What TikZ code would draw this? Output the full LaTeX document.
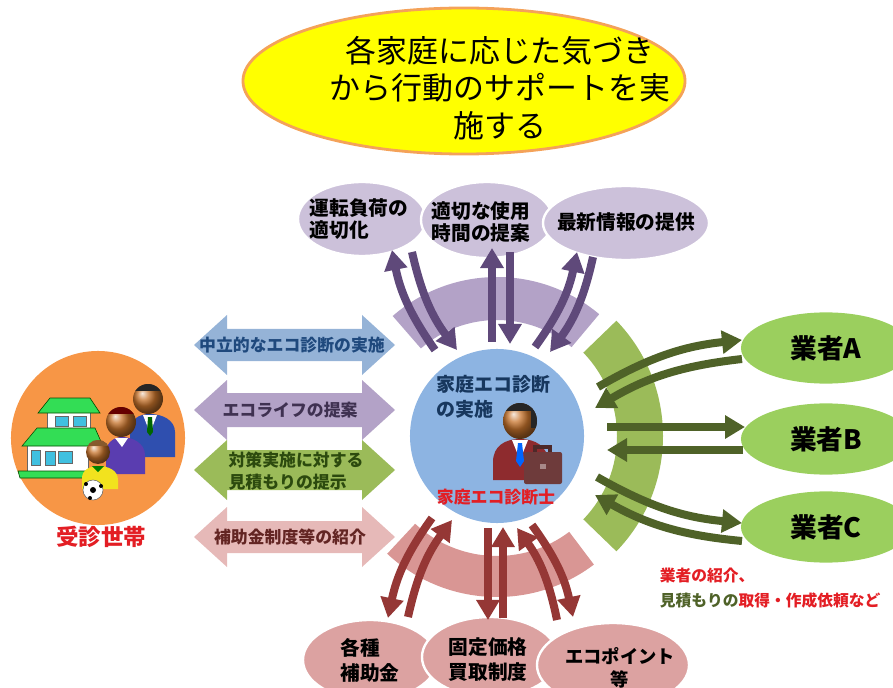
\documentclass[tikz,border=0pt]{standalone}
\usepackage{fontspec}
\setmainfont{Noto Sans CJK JP}
\usetikzlibrary{shapes.geometric, arrows.meta}

\definecolor{goalfill}{HTML}{FFFF00}
\definecolor{goalline}{HTML}{F4A259}
\definecolor{lavender}{HTML}{CCC1DA}
\definecolor{bandpurple}{HTML}{B3A2C7}
\definecolor{arrowpurple}{HTML}{5F497A}
\definecolor{bandgreen}{HTML}{9BBB59}
\definecolor{arrowgreen}{HTML}{4F6228}
\definecolor{firmgreen}{HTML}{9BCF5E}
\definecolor{bandpink}{HTML}{D99694}
\definecolor{bubblepink}{HTML}{DCA2A1}
\definecolor{arrowred}{HTML}{953735}
\definecolor{diagblue}{HTML}{8DB4E2}
\definecolor{homeorange}{HTML}{F79646}
\definecolor{alertred}{HTML}{E31E24}
\definecolor{navytext}{HTML}{17375E}
\definecolor{askblue}{HTML}{95B3D7}
\definecolor{askpurple}{HTML}{B3A2C7}
\definecolor{askgreen}{HTML}{9BBB59}
\definecolor{askpink}{HTML}{E6B9B8}
\definecolor{askbluetext}{HTML}{1F497D}
\definecolor{askpurpletext}{HTML}{3F3151}
\definecolor{askgreentext}{HTML}{2C4A0E}
\definecolor{askpinktext}{HTML}{632523}
\definecolor{skintone}{HTML}{C8742C}
\definecolor{suitred}{HTML}{8E2B2E}
\definecolor{casebrown}{HTML}{6E3B3B}
\definecolor{suitblue}{HTML}{2F4FAF}
\definecolor{dresspurple}{HTML}{5A3DB0}
\definecolor{shirtyellow}{HTML}{F2E21E}
\definecolor{roofgreen}{HTML}{33DD55}
\definecolor{glasscyan}{HTML}{40C0E0}

\begin{document}
\begin{tikzpicture}[x=0.025cm, y=-0.025cm,
    bubble/.style={ellipse, draw=white, line width=0.06cm},
    bubbletext/.style={align=left, font=\bfseries\fontsize{14}{16}\selectfont},
    asktext/.style={align=left, font=\bfseries\fontsize{12}{15.6}\selectfont},
    firm/.style={ellipse, fill=firmgreen, minimum width=4.25cm, minimum height=1.78cm,
        font=\bfseries\fontsize{19}{22}\selectfont},
    flow/.style={line width=0.2cm, -{Triangle[width=0.56cm, length=0.5cm]}}]

    \useasboundingbox (0,0) rectangle (893,688);
    \clip (0,0) rectangle (893,688);

    % goal balloon
    \node [ellipse, fill=goalfill, draw=goalline, line width=0.07cm,
        minimum width=11.05cm, minimum height=3.65cm] (goal) at (464,81) {};
    \node [align=center, font=\fontsize{22}{26.5}\selectfont] (goaltext) at (500,88)
        {各家庭に応じた気づき\\から行動のサポートを実\\施する};

    % bands round the diagnosis
    \coordinate (hub) at (497,436);
    \fill [bandpurple] ([shift={(-131:159)}]hub) arc [start angle=-131, end angle=-50, radius=159]
        -- ([shift={(-50:116)}]hub) arc [start angle=-50, end angle=-131, radius=116] -- cycle;
    \fill [bandgreen] ([shift={(-44:166)}]hub) arc [start angle=-44, end angle=44, radius=166]
        -- ([shift={(44:120)}]hub) arc [start angle=44, end angle=-44, radius=120] -- cycle;
    \fill [bandpink] ([shift={(53:161)}]hub) arc [start angle=53, end angle=133, radius=161]
        -- ([shift={(133:120)}]hub) arc [start angle=133, end angle=53, radius=120] -- cycle;

    \node [circle, fill=diagblue, minimum size=4.35cm] (ctr) at (hub) {};
    \node [circle, fill=homeorange, minimum size=4.35cm] (home) at (98,438) {};

    % advice bubbles
    \node [bubble, fill=lavender, minimum width=3.2cm, minimum height=1.85cm] (adv1) at (362,219) {};
    \node [bubble, fill=lavender, minimum width=3.3cm, minimum height=1.9cm] (adv2) at (487,220) {};
    \node [bubble, fill=lavender, minimum width=4.15cm, minimum height=1.85cm] (adv3) at (626,223) {};
    \node [bubbletext] (adv1t) at (359,219) {運転負荷の\\適切化};
    \node [bubbletext] (adv2t) at (481,222) {適切な使用\\時間の提案};
    \node [bubbletext] (adv3t) at (626,222) {最新情報の提供};

    % support bubbles
    \node [bubble, fill=bubblepink, minimum width=3.35cm, minimum height=2cm] (aid1) at (370,660) {};
    \node [bubble, fill=bubblepink, minimum width=3.4cm, minimum height=2cm] (aid2) at (490,657) {};
    \node [bubble, fill=bubblepink, minimum width=3.8cm, minimum height=2.1cm] (aid3) at (613,665) {};
    \node [bubbletext, font=\bfseries\fontsize{14}{17.8}\selectfont] (aid1t) at (370,660) {各種\\補助金};
    \node [bubbletext, font=\bfseries\fontsize{14}{17.8}\selectfont] (aid2t) at (488,660) {固定価格\\買取制度};
    \node [align=center, font=\bfseries\fontsize{13}{16.5}\selectfont] (aid3t) at (620,668) {エコポイント\\等};

    % two-way arrows to the household
    \foreach \yc/\sh/\col in {345/16/askblue, 410/17/askpurple, 470/20/askgreen, 537/16/askpink}
        \fill [\col] (194,\yc) -- ++(33,-30) -- ++(0,30-\sh) -- ++(135,0) -- ++(0,\sh-30)
            -- ++(33,30) -- ++(-33,30) -- ++(0,\sh-30) -- ++(-135,0) -- ++(0,30-\sh) -- cycle;
    \node [asktext, text=askbluetext] (ask1) at (292,345) {中立的なエコ診断の実施};
    \node [asktext, text=askpurpletext] (ask2) at (290,410) {エコライフの提案};
    \node [asktext, text=askgreentext] (ask3) at (296,471) {対策実施に対する\\見積もりの提示};
    \node [asktext, text=askpinktext] (ask4) at (290,537) {補助金制度等の紹介};

    % firms
    \node [firm] (firmA) at (826,348) {業者A};
    \node [firm] (firmB) at (826,439) {業者B};
    \node [firm] (firmC) at (826,527) {業者C};

    % flows up
    \coordinate (p1a) at (435,350); \coordinate (p1b) at (392,250);
    \coordinate (p2a) at (412,252); \coordinate (p2b) at (457,350);
    \coordinate (p3a) at (492,342); \coordinate (p3b) at (492,248);
    \coordinate (p4a) at (510,252); \coordinate (p4b) at (510,344);
    \coordinate (p5a) at (535,347); \coordinate (p5b) at (577,252);
    \coordinate (p6a) at (593,257); \coordinate (p6b) at (550,352);
    \draw [flow, arrowpurple] (p1a) to [bend left=12] (p1b);
    \draw [flow, arrowpurple] (p2a) to [bend right=12] (p2b);
    \draw [flow, arrowpurple] (p3a) -- (p3b);
    \draw [flow, arrowpurple] (p4a) -- (p4b);
    \draw [flow, arrowpurple] (p5a) to [bend right=12] (p5b);
    \draw [flow, arrowpurple] (p6a) to [bend left=12] (p6b);

    % flows down
    \coordinate (r1a) at (432,518); \coordinate (r1b) at (388,618);
    \coordinate (r2a) at (408,617); \coordinate (r2b) at (452,520);
    \coordinate (r3a) at (488,528); \coordinate (r3b) at (488,620);
    \coordinate (r4a) at (503,618); \coordinate (r4b) at (503,527);
    \coordinate (r5a) at (557,620); \coordinate (r5b) at (517,528);
    \coordinate (r6a) at (532,525); \coordinate (r6b) at (573,617);
    \draw [flow, arrowred] (r1a) to [bend right=12] (r1b);
    \draw [flow, arrowred] (r2a) to [bend left=12] (r2b);
    \draw [flow, arrowred] (r3a) -- (r3b);
    \draw [flow, arrowred] (r4a) -- (r4b);
    \draw [flow, arrowred] (r5a) to [bend right=12] (r5b);
    \draw [flow, arrowred] (r6a) to [bend left=12] (r6b);

    % flows to the firms
    \coordinate (g1a) at (598,387); \coordinate (g1b) at (742,340);
    \coordinate (g2a) at (742,359); \coordinate (g2b) at (595,408);
    \coordinate (g3a) at (607,427); \coordinate (g3b) at (745,427);
    \coordinate (g4a) at (743,450); \coordinate (g4b) at (607,450);
    \coordinate (g5a) at (597,477); \coordinate (g5b) at (742,523);
    \coordinate (g6a) at (742,541); \coordinate (g6b) at (595,495);
    \draw [flow, arrowgreen] (g1a) to [bend left=12] (g1b);
    \draw [flow, arrowgreen] (g2a) to [bend right=12] (g2b);
    \draw [flow, arrowgreen] (g3a) -- (g3b);
    \draw [flow, arrowgreen] (g4a) -- (g4b);
    \draw [flow, arrowgreen] (g5a) to [bend right=12] (g5b);
    \draw [flow, arrowgreen] (g6a) to [bend left=12] (g6b);

    % diagnostician
    \fill [suitred] (493,480) -- (493,462) .. controls (493,446) and (505,439) .. (520,439)
        .. controls (535,439) and (548,446) .. (548,462) -- (548,480) -- cycle;
    \fill [white] (512,440) -- (528,440) -- (520,460) -- cycle;
    \fill [blue!60!cyan] (518,443) -- (522,443) -- (524,461) -- (520,467) -- (516,461) -- cycle;
    \shade [ball color=skintone] (520,421) ellipse [x radius=17, y radius=18];
    \begin{scope}
        \clip (520,421) ellipse [x radius=17, y radius=18];
        \fill [black!85] (500,400) rectangle (540,411);
        \fill [black!85] (531,400) rectangle (540,428);
    \end{scope}
    \draw [casebrown!70!black, line width=0.08cm] (535,453) -- (535,447) -- (550,447) -- (550,453);
    \fill [casebrown, rounded corners=0.05cm] (524,452) rectangle (562,484);
    \fill [casebrown!60!white] (540,464) rectangle (546,469);

    \node [align=left, anchor=west, text=navytext, font=\bfseries\fontsize{13.5}{17.8}\selectfont]
        (ctrlabel) at (432,397) {家庭エコ診断\\の実施};
    \node [text=alertred, font=\bfseries\fontsize{12}{14}\selectfont] (advisor) at (496,497) {家庭エコ診断士};

    % household: house and family
    \fill [white, draw=black!60] (47,410) rectangle (90,430);
    \fill [glasscyan, draw=black!60] (55,416) rectangle (68,426);
    \fill [glasscyan, draw=black!60] (73,416) rectangle (86,426);
    \fill [roofgreen, draw=green!30!black] (38,413) -- (50,398) -- (90,398) -- (100,413) -- cycle;
    \fill [white, draw=black!60] (27,444) rectangle (88,471);
    \fill [glasscyan, draw=black!60] (31,450) rectangle (40,465);
    \fill [glasscyan, draw=black!60] (45,451) rectangle (55,465);
    \fill [glasscyan, draw=black!60] (58,451) rectangle (72,463);
    \fill [roofgreen, draw=green!30!black] (22,446) -- (37,428) -- (95,428) -- (103,446) -- cycle;
    \fill [roofgreen, draw=green!30!black] (18,471) -- (88,471) -- (92,478) -- (20,478) -- cycle;

    \fill [suitblue] (130,457) -- (130,432) .. controls (130,419) and (139,414) .. (150,414)
        .. controls (162,414) and (175,420) .. (175,432) -- (175,457) -- cycle;
    \fill [white] (143,415) -- (157,415) -- (150,433) -- cycle;
    \fill [green!40!black] (148,417) -- (152,417) -- (153,432) -- (150,436) -- (147,432) -- cycle;
    \shade [ball color=skintone] (148,399) circle [radius=15];
    \begin{scope}
        \clip (148,399) circle [radius=15];
        \fill [black!85] (130,380) rectangle (166,391);
    \end{scope}

    \fill [dresspurple] (106,474) -- (106,452) .. controls (106,443) and (114,437) .. (122,437)
        .. controls (132,437) and (145,443) .. (145,455) -- (145,474) -- cycle;
    \fill [white] (115,438) -- (128,438) -- (122,447) -- cycle;
    \shade [ball color=skintone] (121,422) circle [radius=15];
    \begin{scope}
        \clip (121,422) circle [radius=15];
        \fill [red!40!black] (104,404) rectangle (140,414);
    \end{scope}

    \fill [shirtyellow] (82,489) -- (82,478) .. controls (82,470) and (90,466) .. (98,466)
        .. controls (108,466) and (118,470) .. (118,480) -- (118,489) -- cycle;
    \fill [green!50!black] (92,466) -- (104,466) -- (98,472) -- cycle;
    \shade [ball color=skintone] (98,452) circle [radius=12];
    \begin{scope}
        \clip (98,452) circle [radius=12];
        \fill [brown!70!black] (84,438) rectangle (112,446);
    \end{scope}
    \fill [white, draw=black!60] (93,490) circle [radius=10];
    \fill [black] (93,490) circle [radius=3];
    \fill [black] (86,484) circle [radius=2];
    \fill [black] (101,486) circle [radius=2];
    \fill [black] (90,498) circle [radius=2];

    \node [text=alertred, font=\bfseries\fontsize{16}{18}\selectfont] (homelabel) at (101,537) {受診世帯};

    % note on the firms
    \node [align=left, anchor=west, font=\bfseries\fontsize{11.2}{17.6}\selectfont] (remark) at (655,588)
        {\textcolor{alertred}{業者の紹介、}\\\textcolor{arrowgreen}{見積もりの}\textcolor{alertred}{取得・作成依頼など}};

\end{tikzpicture}
\end{document}
